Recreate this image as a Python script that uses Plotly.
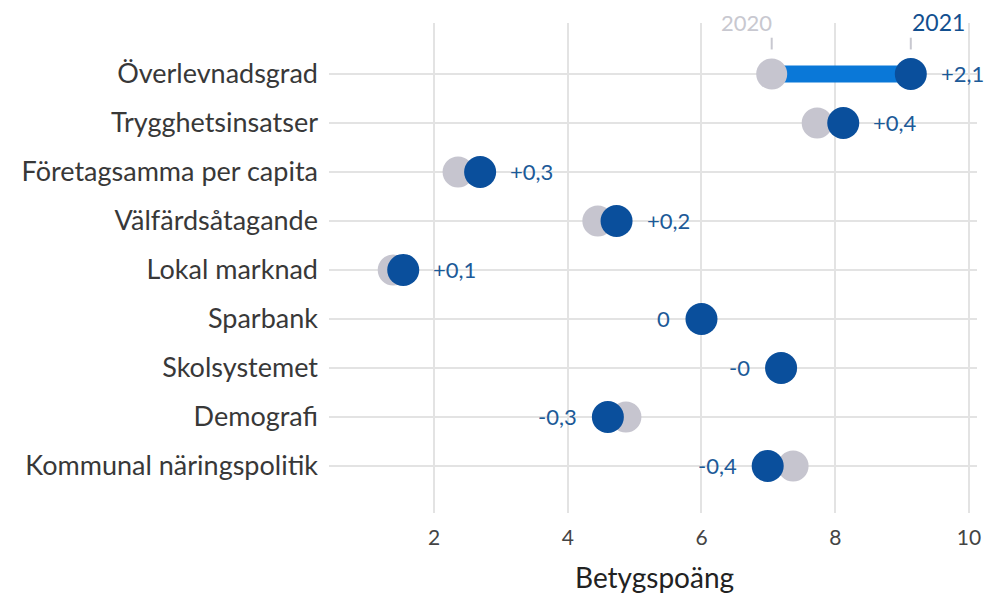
import plotly.graph_objects as go

categories = ["Överlevnadsgrad", "Trygghetsinsatser", "Företagsamma per capita",
              "Välfärdsåtagande", "Lokal marknad", "Sparbank", "Skolsystemet",
              "Demografi", "Kommunal näringspolitik"]
values_2020 = [7.05, 7.73, 2.36, 4.45, 1.39, 6.0, 7.2, 4.87, 7.37]
values_2021 = [9.13, 8.12, 2.69, 4.73, 1.54, 6.0, 7.19, 4.6, 6.99]
delta_labels = ["+2,1", "+0,4", "+0,3", "+0,2", "+0,1", "0", "-0", "-0,3", "-0,4"]
label_side = ["right", "right", "right", "right", "right", "left", "left", "left", "left"]
x_ticks = [2, 4, 6, 8, 10]
x_title = "Betygspoäng"

GRAY = "#c6c5cf"
BLUE = "#0a4f9c"
LINE = "#0a78d8"
TXTBLUE = "#1c5a98"
FONT = "Lato"

rows = list(range(len(categories)))

fig = go.Figure()
# connecting line for the first row
fig.add_trace(go.Scatter(x=[values_2020[0], values_2021[0]], y=[rows[0], rows[0]],
                         mode="lines", line=dict(color=LINE, width=17),
                         hoverinfo="skip", showlegend=False))
fig.add_trace(go.Scatter(x=values_2020, y=rows, mode="markers",
                         marker=dict(color=GRAY, size=31, line=dict(width=0)),
                         name="2020", showlegend=False))
fig.add_trace(go.Scatter(x=values_2021, y=rows, mode="markers",
                         marker=dict(color=BLUE, size=32, line=dict(width=0)),
                         name="2021", showlegend=False))

annotations = []
for r, x, lab, side in zip(rows, values_2021, delta_labels, label_side):
    annotations.append(dict(x=x, y=r, xref="x", yref="y", text=lab, showarrow=False,
                            xanchor="left" if side == "right" else "right",
                            xshift=28 if side == "right" else -29,
                            font=dict(family=FONT, size=22, color=TXTBLUE)))

# header labels
annotations.append(dict(x=values_2020[0], y=1, xref="x", yref="paper", text="2020",
                        xanchor="right", yanchor="middle", yshift=1, xshift=2, showarrow=False,
                        font=dict(family=FONT, size=22, color="#c8c8d0")))
annotations.append(dict(x=values_2021[0], y=1, xref="x", yref="paper", text="2021",
                        xanchor="left", yanchor="middle", yshift=1, xshift=-1, showarrow=False,
                        font=dict(family=FONT, size=23, color="#124f8f")))
# x axis title
annotations.append(dict(x=0.503, y=0, xref="paper", yref="paper", text=x_title,
                        xanchor="center", yanchor="middle", yshift=-64, showarrow=False,
                        font=dict(family=FONT, size=28, color="#222222")))
shapes = [
    dict(type="line", xref="x", yref="y", x0=values_2020[0], x1=values_2020[0],
         y0=-0.74, y1=-0.5, line=dict(color="#c8c8d0", width=2)),
    dict(type="line", xref="x", yref="y", x0=values_2021[0], x1=values_2021[0],
         y0=-0.74, y1=-0.5, line=dict(color="#c8c8d0", width=2)),
]

fig.update_layout(
    width=1008, height=595,
    margin=dict(l=329, r=31, t=23, b=82),
    paper_bgcolor="white", plot_bgcolor="white",
    font=dict(family=FONT, color="#333333"),
    annotations=annotations, shapes=shapes,
    xaxis=dict(range=[0.43, 10.12], tickvals=x_ticks, ticktext=[str(t) for t in x_ticks],
               showgrid=True, gridcolor="#e3e3e3", gridwidth=2, zeroline=False,
               showline=False, ticks="", ticklabelstandoff=10, automargin=False,
               tickfont=dict(family=FONT, size=21, color="#444444")),
    yaxis=dict(range=[8.96, -1.04], tickvals=rows, ticktext=categories,
               showgrid=True, gridcolor="#e3e3e3", gridwidth=2, zeroline=False,
               showline=False, ticks="", ticklabelstandoff=10, automargin=False,
               tickfont=dict(family=FONT, size=27, color="#383838")),
)

fig.write_html("out.html", config={"displayModeBar": False},
               post_script="document.body.style.margin='0px';")
